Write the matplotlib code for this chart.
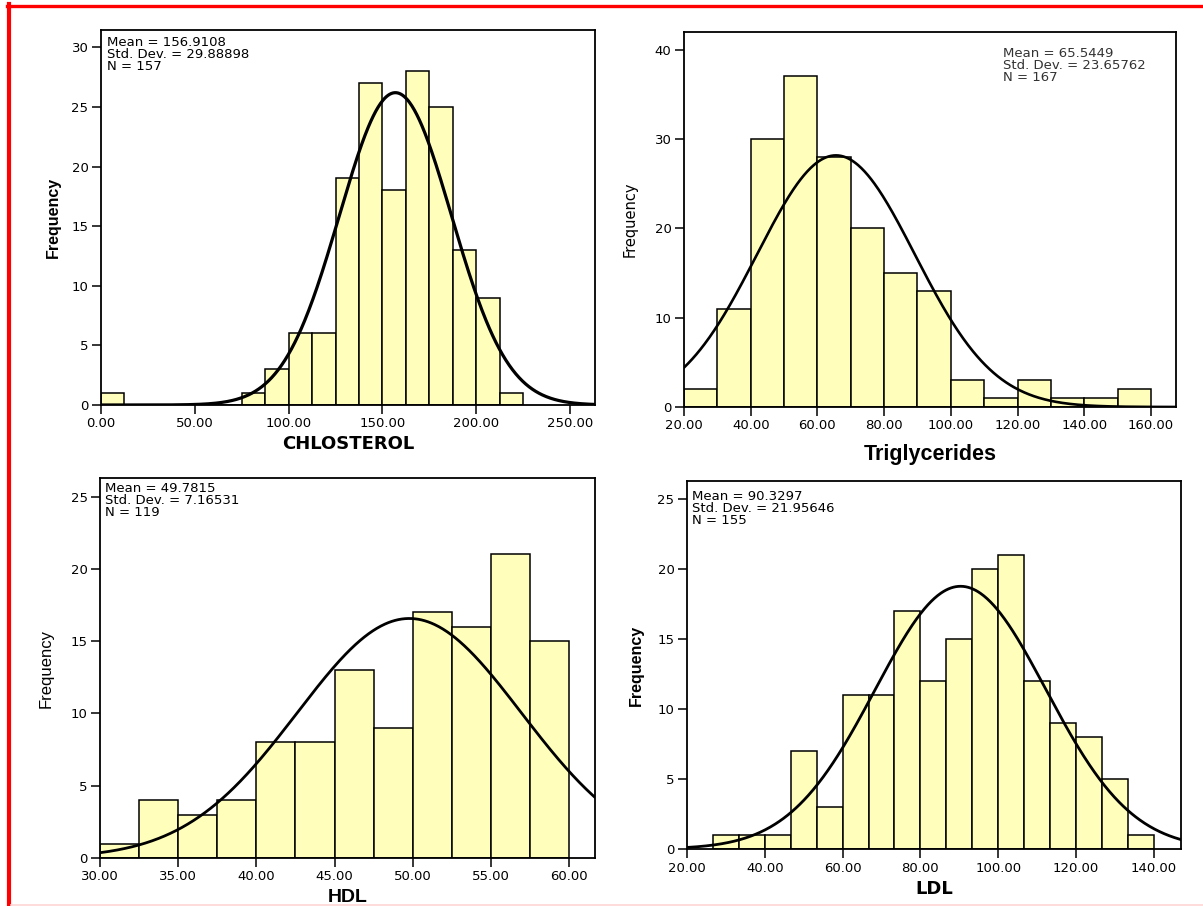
import numpy as np
import matplotlib
matplotlib.use("Agg")
import matplotlib.pyplot as plt
from matplotlib.lines import Line2D

# ---------------- data ----------------
chol_bin_start = 0.0
chol_bin_width = 12.5
chol_counts = [1, 0, 0, 0, 0, 0, 1, 3, 6, 6, 19, 27, 18, 28, 25, 13, 9, 1]
chol_mean, chol_sd, chol_n = 156.9108, 29.88898, 157
chol_xticks = [0, 50, 100, 150, 200, 250]
chol_yticks = [0, 5, 10, 15, 20, 25, 30]

tg_bin_start = 20.0
tg_bin_width = 10.0
tg_counts = [2, 11, 30, 37, 28, 20, 15, 13, 3, 1, 3, 1, 1, 2]
tg_mean, tg_sd, tg_n = 65.5449, 23.65762, 167
tg_xticks = [20, 40, 60, 80, 100, 120, 140, 160]
tg_yticks = [0, 10, 20, 30, 40]

hdl_bin_start = 30.0
hdl_bin_width = 2.5
hdl_counts = [1, 4, 3, 4, 8, 8, 13, 9, 17, 16, 21, 15]
hdl_mean, hdl_sd, hdl_n = 49.7815, 7.16531, 119
hdl_xticks = [30, 35, 40, 45, 50, 55, 60]
hdl_yticks = [0, 5, 10, 15, 20, 25]

ldl_bin_start = 80.0 / 3.0
ldl_bin_width = 20.0 / 3.0
ldl_counts = [1, 1, 1, 7, 3, 11, 11, 17, 12, 15, 20, 21, 12, 9, 8, 5, 1]
ldl_mean, ldl_sd, ldl_n = 90.3297, 21.95646, 155
ldl_xticks = [20, 40, 60, 80, 100, 120, 140]
ldl_yticks = [0, 5, 10, 15, 20, 25]

# ---------------- style ----------------
BAR = "#ffffbb"
W, H = 1203, 906
fig = plt.figure(figsize=(W / 100, H / 100), dpi=100)
fig.patch.set_facecolor("white")


def px_axes(left, top, right, bottom):
    return fig.add_axes([left / W, 1 - bottom / H, (right - left) / W, (bottom - top) / H])


def panel(ax, start, width, counts, mean, sd, n, xlim, ylim, xticks, yticks,
          xlabel, xlab_kw, ylab_kw, stats_pos, stats_kw, curve_lw, tick_kw):
    counts = np.asarray(counts, dtype=float)
    lefts = start + width * np.arange(len(counts))
    ax.bar(lefts, counts, width=width, align="edge", color=BAR,
           edgecolor="black", linewidth=1.1, zorder=2)
    xs = np.linspace(xlim[0], xlim[1], 600)
    ys = n * width / (sd * np.sqrt(2 * np.pi)) * np.exp(-0.5 * ((xs - mean) / sd) ** 2)
    ax.plot(xs, ys, color="black", lw=curve_lw, zorder=3, solid_capstyle="round")
    ax.set_xlim(*xlim)
    ax.set_ylim(*ylim)
    ax.set_xticks(xticks)
    ax.set_xticklabels([f"{t:.2f}" for t in xticks], **tick_kw)
    ax.set_yticks(yticks)
    ax.set_yticklabels([str(t) for t in yticks], **tick_kw)
    ax.tick_params(axis="both", direction="out", length=6.5, width=1.1, pad=2.5,
                   colors="black")
    for s in ax.spines.values():
        s.set_linewidth(1.3)
        s.set_color("black")
    ax.set_xlabel(xlabel, **xlab_kw)
    ax.set_ylabel("Frequency", **ylab_kw)
    ax.text(stats_pos[0], stats_pos[1],
            f"Mean = {mean}\nStd. Dev. = {sd}\nN = {n}",
            transform=ax.transAxes, va="top", linespacing=0.9, **stats_kw)


tick_arial = dict(fontsize=9.5, family="DejaVu Sans")
tick_light = dict(fontsize=9.5, family="DejaVu Sans", color="#333333")

# Panel 1 - cholesterol
ax1 = px_axes(101, 30, 595, 405)
panel(ax1, chol_bin_start, chol_bin_width, chol_counts, chol_mean, chol_sd, chol_n,
      (0, 263.3), (0, 31.45), chol_xticks, chol_yticks,
      "CHLOSTEROL",
      dict(family="DejaVu Sans", fontweight="bold", fontsize=13, labelpad=3),
      dict(family="Liberation Sans", fontweight="bold", fontsize=11.5, labelpad=8),
      (0.013, 0.985), dict(family="DejaVu Sans", fontsize=9.5),
      2.3, tick_arial)

# Panel 2 - triglycerides
ax2 = px_axes(684, 32, 1176, 407)
panel(ax2, tg_bin_start, tg_bin_width, tg_counts, tg_mean, tg_sd, tg_n,
      (20, 167.5), (0, 41.97), tg_xticks, tg_yticks,
      "Triglycerides",
      dict(family="Liberation Sans", fontweight="bold", fontsize=15.5, labelpad=8),
      dict(family="DejaVu Sans", fontsize=10.5, labelpad=12),
      (0.648, 0.96), dict(family="DejaVu Sans", fontsize=9.5, color="#333333"),
      1.9, tick_light)

# Panel 3 - HDL
ax3 = px_axes(100, 478, 595, 858)
panel(ax3, hdl_bin_start, hdl_bin_width, hdl_counts, hdl_mean, hdl_sd, hdl_n,
      (30, 61.66), (0, 26.28), hdl_xticks, hdl_yticks,
      "HDL",
      dict(family="Liberation Sans", fontweight="bold", fontsize=14, labelpad=4),
      dict(family="Liberation Sans", fontsize=12, labelpad=12),
      (0.01, 0.99), dict(family="DejaVu Sans", fontsize=9.5),
      2.0, tick_light)

# Panel 4 - LDL
ax4 = px_axes(687, 481, 1181, 849)
panel(ax4, ldl_bin_start, ldl_bin_width, ldl_counts, ldl_mean, ldl_sd, ldl_n,
      (20, 147), (0, 26.3), ldl_xticks, ldl_yticks,
      "LDL",
      dict(family="DejaVu Sans", fontweight="bold", fontsize=13, labelpad=4),
      dict(family="Liberation Sans", fontweight="bold", fontsize=11.5, labelpad=10),
      (0.01, 0.975), dict(family="DejaVu Sans", fontsize=9.5),
      2.0, tick_arial)

# red frame
fig.add_artist(Line2D([7 / W, 1], [1 - 5.5 / H] * 2, color="#ff0000", lw=2.4,
                      transform=fig.transFigure))
fig.add_artist(Line2D([9 / W] * 2, [0, 1 - 4 / H], color="#ff0000", lw=3.0,
                      transform=fig.transFigure))
fig.add_artist(Line2D([11 / W, 1], [1.5 / H] * 2, color="#ffd6d6", lw=1.2,
                      transform=fig.transFigure))

fig.savefig("out.png", dpi=100, facecolor="white")
